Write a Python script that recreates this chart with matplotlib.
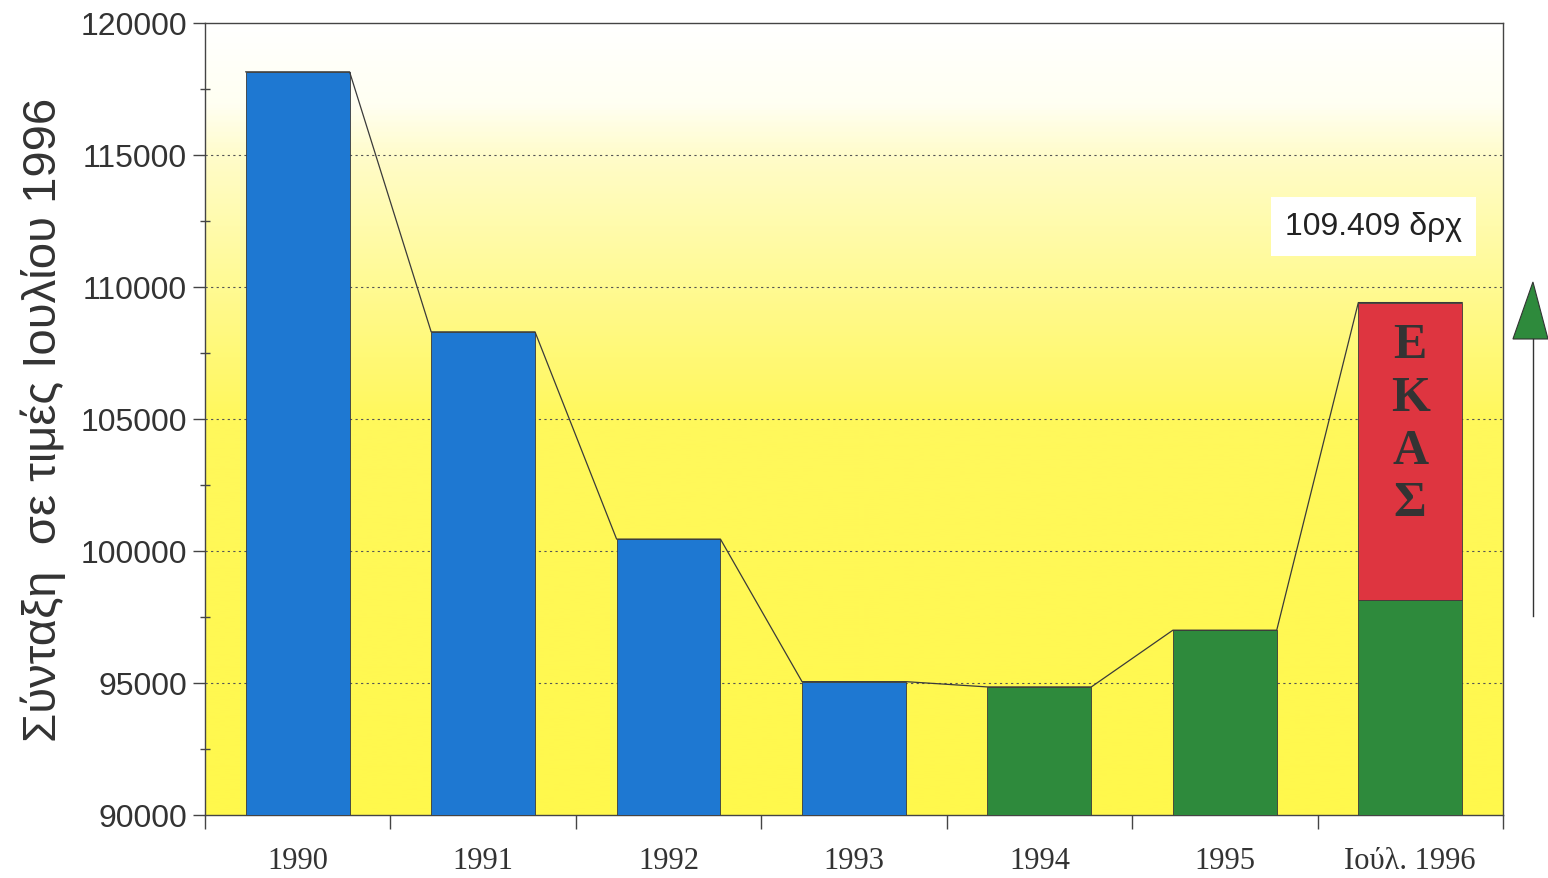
import numpy as np
import matplotlib
matplotlib.use("Agg")
import matplotlib.pyplot as plt
from matplotlib.colors import LinearSegmentedColormap
from matplotlib.patches import Polygon
import matplotlib.transforms as mtransforms

# Pension values (July 1996 prices)
years = ["1990", "1991", "1992", "1993", "1994", "1995", "Ιούλ. 1996"]
pension = [118150, 108300, 100450, 95050, 94850, 97000, 98150]
bar_colors = ["#1e78d2", "#1e78d2", "#1e78d2", "#1e78d2", "#2e8a3c", "#2e8a3c", "#2e8a3c"]
ekas_total = 109409
ekas_label = "109.409 δρχ"

fig = plt.figure(figsize=(15.48, 8.79), dpi=100)
ax = fig.add_axes([0.1324, 0.0717, 0.8385, 0.9010])

ymin, ymax = 90000, 120000
ax.set_xlim(-0.5, len(years) - 0.5)
ax.set_ylim(ymin, ymax)

# white-to-yellow background, white at the top
cmap = LinearSegmentedColormap.from_list(
    "bg", [(0.0, "#ffffff"), (0.10, "#fffff2"), (0.17, "#fffcc8"), (0.34, "#fffa90"),
           (0.50, "#fff85c"), (1.0, "#fff84c")])
grad = np.linspace(0, 1, 400).reshape(-1, 1)
ax.imshow(grad, cmap=cmap, aspect="auto", extent=[-0.5, len(years) - 0.5, ymin, ymax],
          origin="upper", zorder=0)

x = np.arange(len(years))
w = 0.56
bottoms = [ymin] * len(years)
ax.bar(x, np.array(pension) - ymin, bottom=bottoms, width=w, color=bar_colors,
       edgecolor="#3a3a3a", linewidth=0.6, zorder=3)

# EKAS supplement on top of the last bar
last = len(years) - 1
ax.bar(last, ekas_total - pension[last], bottom=pension[last], width=w,
       color="#de3540", edgecolor="#3a3a3a", linewidth=0.6, zorder=3)
for i, ch in enumerate("ΕΚΑΣ"):
    ax.text(last, 107800 - i * 2000, ch, ha="center", va="center", fontsize=36,
            family="Liberation Serif", fontweight="bold", color="#333333", zorder=5)

# line along the bar tops
tops = list(pension[:-1]) + [ekas_total]
lx, ly = [], []
for i, t in enumerate(tops):
    lx += [i - w / 2, i + w / 2]
    ly += [t, t]
ax.plot(lx, ly, color="#3a3a3a", linewidth=0.9, zorder=4)

ax.text(5.325, 112300, ekas_label, ha="left", va="center", fontsize=23,
        family="Liberation Sans", color="#222222", zorder=6,
        bbox=dict(boxstyle="square,pad=0.45", facecolor="white", edgecolor="none"))

# grid
for yv in range(95000, 120000, 5000):
    ax.axhline(yv, color="#555555", linewidth=0.8, linestyle=(0, (2, 3)), zorder=1)

ax.set_yticks(range(ymin, ymax + 1, 5000))
ax.set_yticks(range(ymin + 2500, ymax, 5000), minor=True)
ax.tick_params(axis="y", which="major", direction="out", length=9, width=1, color="#444444",
               labelsize=23, labelcolor="#333333", pad=4)
ax.tick_params(axis="y", which="minor", direction="inout", length=7, width=1, color="#444444")
for lab in ax.get_yticklabels():
    lab.set_family("Liberation Sans")

ax.set_xticks(x)
ax.set_xticklabels(years, family="Liberation Serif", fontsize=22, color="#333333")
ax.set_xticks(np.arange(-0.5, len(years)), minor=True)
ax.tick_params(axis="x", which="major", length=0, pad=22)
ax.tick_params(axis="x", which="minor", direction="out", length=10, width=1, color="#444444")

for s in ax.spines.values():
    s.set_color("#444444")
    s.set_linewidth(1.0)

ax.set_ylabel("Σύνταξη  σε τιμές Ιουλίου 1996", fontsize=34, family="Liberation Sans",
              color="#333333", labelpad=10)

# green arrow beside the plot
trans = mtransforms.blended_transform_factory(ax.transAxes, ax.transData)
ax.plot([1.0231, 1.0231], [97540, 108030], color="#333333", linewidth=1.0,
        transform=trans, clip_on=False)
tri = Polygon([[1.0077, 108030], [1.0347, 108030], [1.0231, 110190]], closed=True,
              facecolor="#2e8a3c", edgecolor="#333333", linewidth=0.8,
              transform=trans, clip_on=False)
ax.add_patch(tri)

fig.savefig("out.png", dpi=100)
